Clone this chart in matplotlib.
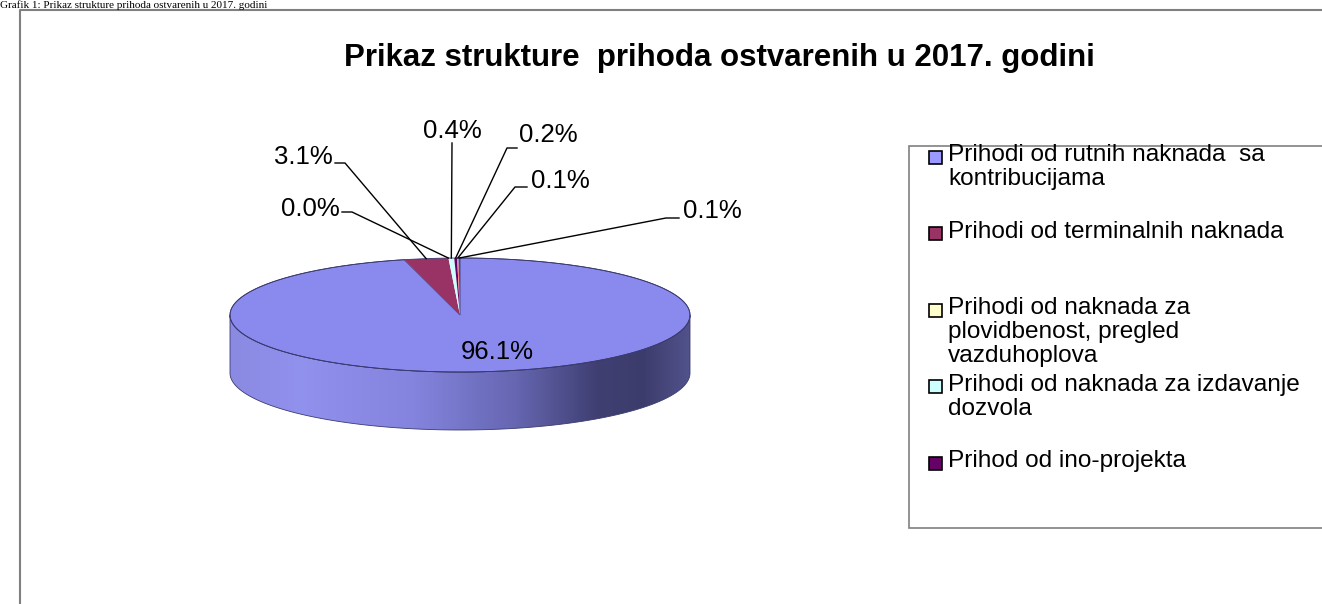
import numpy as np
import matplotlib.pyplot as plt
from matplotlib.patches import Polygon, Rectangle
from matplotlib.colors import LinearSegmentedColormap

# data
shares = [96.1, 3.1, 0.0, 0.4, 0.2, 0.1, 0.1]
pct_labels = ["96.1%", "3.1%", "0.0%", "0.4%", "0.2%", "0.1%", "0.1%"]
slice_colors = ["#8a8aee", "#993366", "#ffffcc", "#ccffff", "#660066", "#ff8080", "#0066cc"]
legend_labels = [
    "Prihodi od rutnih naknada  sa\nkontribucijama",
    "Prihodi od terminalnih naknada",
    "Prihodi od naknada za\nplovidbenost, pregled\nvazduhoplova",
    "Prihodi od naknada za izdavanje\ndozvola",
    "Prihod od ino-projekta",
]
legend_colors = ["#9999ff", "#993366", "#ffffcc", "#ccffff", "#660066"]
title = "Prikaz strukture  prihoda ostvarenih u 2017. godini"
caption = "Grafik 1: Prikaz strukture prihoda ostvarenih u 2017. godini"

# pie geometry (pixels)
cx, cy, a, b, depth = 460, 315, 230, 57, 58

# outer label placement (text anchor, elbow start, elbow end)
label_pos = [None,
             (333, 157, "right", (335, 163), (345, 163)),
             (340, 209, "right", (342, 212), (352, 212)),
             (452, 131, "center", None, (452, 143)),
             (519, 135, "left", (517, 148), (507, 148)),
             (531, 181, "left", (527, 187), (515, 187)),
             (683, 211, "left", (679, 218), (666, 218))]


def rim(t, dy=0.0):
    t = np.radians(t)
    return np.column_stack([cx + a * np.sin(t), cy - b * np.cos(t) + dy])


fig = plt.figure(figsize=(13.22, 6.04), dpi=100)
ax = fig.add_axes([0, 0, 1, 1])

# caption and frame
ax.text(0, 0, caption, family="Liberation Serif", fontsize=8, ha="left", va="top")
ax.plot([20, 20, 1322], [604, 10, 10], color="#808080", lw=1.5)

angles = np.concatenate([[0], np.cumsum(shares) / sum(shares) * 360])

# side walls
side_cmap = LinearSegmentedColormap.from_list(
    "side", [(0.0, "#8a8ae2"), (0.15, "#9191ee"), (0.4, "#8484de"), (0.62, "#6666b2"),
             (0.8, "#3f3f72"), (0.9, "#3c3c6c"), (1.0, "#52528c")])
for i in range(len(shares)):
    t1, t2 = max(angles[i], 90), min(angles[i + 1], 270)
    if t2 <= t1:
        continue
    t = np.linspace(t1, t2, 200)
    pts = np.vstack([rim(t), rim(t[::-1], depth)])
    wall = Polygon(pts, closed=True, facecolor="none", edgecolor="#3a3a70", lw=0.6, zorder=2)
    ax.add_patch(wall)
    if i == 0:
        grad = np.linspace(0, 1, 256).reshape(1, -1)
        im = ax.imshow(grad, extent=[cx - a, cx + a, cy + b + depth, cy], cmap=side_cmap,
                       aspect="auto", zorder=1)
        im.set_clip_path(wall)
    else:
        wall.set_facecolor(slice_colors[i])

# top faces
for i in range(len(shares)):
    t = np.linspace(angles[i], angles[i + 1], max(2, int(shares[i] * 4)))
    pts = np.vstack([[cx, cy], rim(t)])
    ax.add_patch(Polygon(pts, closed=True, facecolor=slice_colors[i],
                         edgecolor="#3a3a70" if i == 0 else "none", lw=0.6, zorder=3))
ax.plot(*rim(np.linspace(0, 360, 400)).T, color="#3a3a70", lw=0.6, zorder=4)

# labels
lab_font = dict(family="Liberation Sans", fontsize=18.5)
ax.text(cx + 37, cy + 37, pct_labels[0], ha="center", va="center", zorder=5, **lab_font)
for i in range(1, len(shares)):
    x, y, ha, p_end, p_elbow = label_pos[i]
    ax.text(x, y, pct_labels[i], ha=ha, va="center", zorder=5, **lab_font)
    anchor = rim([(angles[i] + angles[i + 1]) / 2])[0]
    xs, ys = [], []
    if p_end is not None:
        xs.append(p_end[0]); ys.append(p_end[1])
    xs += [p_elbow[0], anchor[0]]
    ys += [p_elbow[1], anchor[1]]
    ax.plot(xs, ys, color="black", lw=1, zorder=5)

# title
ax.text(719, 58, title, family="Liberation Sans", fontsize=22.5, fontweight="bold",
        ha="center", va="center")

# legend box
ax.add_patch(Rectangle((909, 146), 420, 382, facecolor="white", edgecolor="#808080", lw=1.2))
for k, (lab, col) in enumerate(zip(legend_labels, legend_colors)):
    y0 = 157 + k * 76.5
    ax.add_patch(Rectangle((929, y0 - 6.5), 13, 13, facecolor=col, edgecolor="black", lw=1.2, zorder=6))
    ax.text(948, y0 - 13, lab, ha="left", va="top", linespacing=1.13,
            family="Liberation Sans", fontsize=17.6)

ax.set_xlim(0, 1322)
ax.set_ylim(604, 0)
ax.axis("off")
fig.savefig("out.png", dpi=100)
